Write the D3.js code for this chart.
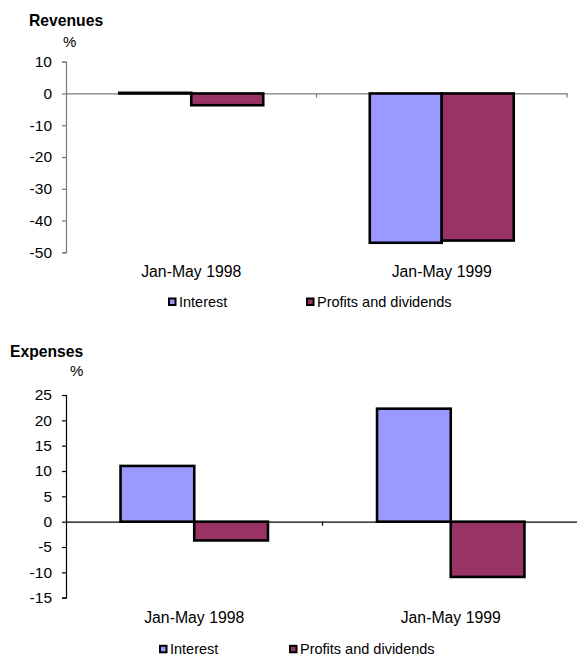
<!DOCTYPE html>
<html>
<head>
<meta charset="utf-8">
<script src="https://cdn.jsdelivr.net/npm/d3@7"></script>
<style>
  html, body { margin: 0; padding: 0; background: #fff; }
  svg { display: block; font-family: "Liberation Sans", Arial, sans-serif; }
</style>
</head>
<body>
<svg id="chart" width="577" height="657"></svg>
<script>
// Categories and series shared by both panels
const categories = ["Jan-May 1998", "Jan-May 1999"];
const seriesNames = ["Interest", "Profits and dividends"];
const seriesColors = ["#9999FF", "#993366"];

// Revenues, % change
const revenuesInterest = [0.2, -47];
const revenuesProfits = [-3.7, -46.3];
const revenuesTicks = [10, 0, -10, -20, -30, -40, -50];

// Expenses, % change
const expensesInterest = [11, 22.3];
const expensesProfits = [-3.7, -10.9];
const expensesTicks = [25, 20, 15, 10, 5, 0, -5, -10, -15];

const svg = d3.select("#chart");

function drawPanel(opts) {
  const g = svg.append("g");
  const values = [opts.interest, opts.profits];
  const rows = categories.map((c, i) => ({
    category: c,
    bars: seriesNames.map((s, j) => ({ series: s, value: values[j][i], color: seriesColors[j] }))
  }));

  const x = d3.scaleBand().domain(categories).range([opts.left, opts.right]).padding(0);
  const xs = d3.scaleBand().domain(seriesNames).range([0, x.bandwidth()])
    .paddingInner(0).paddingOuter(0.74);
  const y = d3.scaleLinear().domain(d3.extent(opts.ticks)).range([opts.bottom, opts.top]);

  // title and unit
  g.append("text").attr("x", opts.titleX).attr("y", opts.titleY)
    .attr("font-weight", "bold").attr("font-size", "15.7px").attr("fill", "#000")
    .text(opts.title);
  g.append("text").attr("x", opts.unitX).attr("y", opts.unitY)
    .attr("font-size", "15px").attr("fill", "#000").text("%");

  // y axis
  const yAxis = d3.axisLeft(y).tickValues(opts.ticks).tickSize(4).tickPadding(10)
    .tickFormat(d => String(d));
  const ya = g.append("g").attr("transform", `translate(${opts.left},0)`).call(yAxis);
  ya.select(".domain").attr("stroke", opts.axisColor).attr("stroke-width", 1.2);
  ya.selectAll(".tick line").attr("stroke", opts.axisColor).attr("stroke-width", 1.2);
  ya.selectAll(".tick text").attr("font-size", "15.5px").attr("fill", "#000")
    .attr("font-family", "Liberation Sans, Arial, sans-serif");

  // zero line with category separators
  const xAxis = d3.axisBottom(x).tickValues([]).tickSizeOuter(0);
  const xa = g.append("g").attr("transform", `translate(0,${y(0)})`).call(xAxis);
  xa.select(".domain").attr("stroke", opts.axisColor).attr("stroke-width", 1.2);
  const seps = categories.map(c => x(c) + x.bandwidth()).filter(v => v < 577);
  xa.selectAll(".sep").data(seps).enter().append("line")
    .attr("x1", d => d).attr("x2", d => d).attr("y1", 0).attr("y2", 4)
    .attr("stroke", opts.axisColor).attr("stroke-width", 1.2);

  // bars
  rows.forEach(r => {
    g.selectAll(null).data(r.bars).enter().append("rect")
      .attr("x", d => x(r.category) + xs(d.series))
      .attr("width", xs.bandwidth())
      .attr("y", d => y(Math.max(0, d.value)))
      .attr("height", d => Math.abs(y(d.value) - y(0)))
      .attr("fill", d => d.color)
      .attr("stroke", "#000").attr("stroke-width", 2.6);
  });

  // category labels
  g.selectAll(null).data(categories).enter().append("text")
    .attr("x", d => x(d) + x.bandwidth() / 2)
    .attr("y", opts.catY)
    .attr("text-anchor", "middle").attr("font-size", "15.8px").attr("fill", "#000")
    .text(d => d);

  // legend
  seriesNames.forEach((s, j) => {
    const lx = opts.legendX[j];
    g.append("rect").attr("x", lx + 1).attr("y", opts.legendY - 3.2)
      .attr("width", 6.5).attr("height", 6.5)
      .attr("fill", seriesColors[j]).attr("stroke", "#000").attr("stroke-width", 2);
    g.append("text").attr("x", lx + 11).attr("y", opts.legendY + 5.2)
      .attr("font-size", "14.5px").attr("fill", "#000").text(s);
  });
}

drawPanel({
  title: "Revenues", titleX: 29, titleY: 26,
  unitX: 63, unitY: 47,
  interest: revenuesInterest, profits: revenuesProfits, ticks: revenuesTicks,
  left: 66, right: 567, top: 61.7, bottom: 252.3,
  axisColor: "#7a7a7a",
  catY: 277.4,
  legendX: [168, 306], legendY: 301.7
});

drawPanel({
  title: "Expenses", titleX: 10, titleY: 357.3,
  unitX: 70, unitY: 376,
  interest: expensesInterest, profits: expensesProfits, ticks: expensesTicks,
  left: 66, right: 579, top: 395, bottom: 597.7,
  axisColor: "#000",
  catY: 623.2,
  legendX: [159, 289], legendY: 649
});
</script>
</body>
</html>
